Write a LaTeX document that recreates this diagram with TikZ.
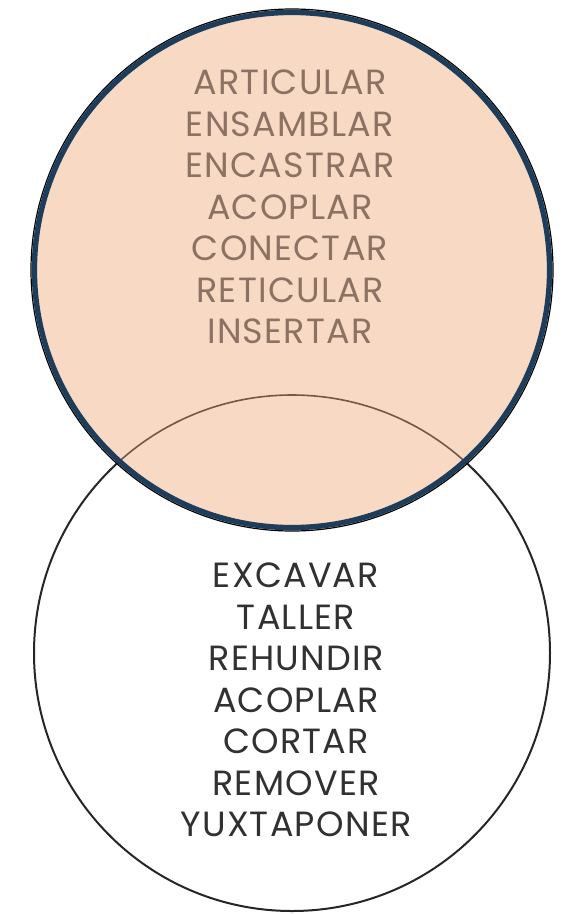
\documentclass[tikz,border=0pt]{standalone}
\usepackage{fontspec}
\setmainfont{Poppins}[LetterSpace=3.5]
\definecolor{peach}{RGB}{248,217,196}
\definecolor{ringnavy}{RGB}{30,61,90}
\definecolor{toptext}{RGB}{140,114,98}
\definecolor{bottext}{RGB}{50,48,50}
\definecolor{seenarc}{RGB}{115,88,72}
\begin{document}
\begin{tikzpicture}[x=1pt,y=-1pt,
  wordlist/.style={align=center, font=\fontsize{35}{41.5}\selectfont, inner sep=0pt},
  lowring/.style={draw=black!85, line width=2pt}
]
\useasboundingbox[fill=white] (0,0) rectangle (562,914);
% lower circle
\coordinate (lc) at (292,653);
\coordinate (uc) at (292,270);
\draw[lowring] (lc) circle (258);
% upper circle
\fill[peach] (uc) circle (258);
% part of the lower outline seen through the upper disc
\begin{scope}
  \clip (uc) circle (256);
  \draw[seenarc, line width=1.6pt] (lc) circle (258);
\end{scope}
\draw[black, line width=1.2pt] (uc) circle (261);
\draw[ringnavy, line width=5.4pt] (uc) circle (257.6);
% word lists
\node[wordlist, text=toptext] (top) at (290,207) {ARTICULAR\\ENSAMBLAR\\ENCASTRAR\\ACOPLAR\\CONECTAR\\RETICULAR\\INSERTAR};
\node[wordlist, text=bottext] (bot) at (296,700) {EXCAVAR\\TALLER\\REHUNDIR\\ACOPLAR\\CORTAR\\REMOVER\\YUXTAPONER};
\end{tikzpicture}
\end{document}
